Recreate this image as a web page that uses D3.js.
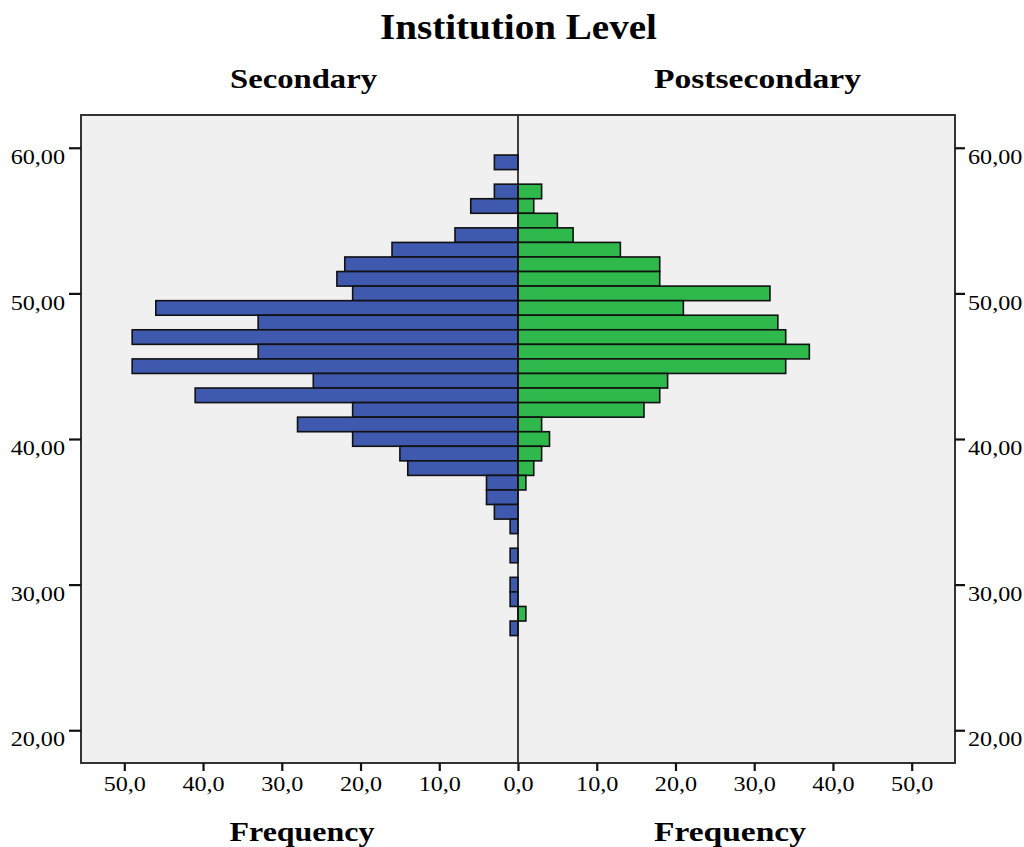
<!DOCTYPE html>
<html>
<head>
<meta charset="utf-8">
<script src="https://cdn.jsdelivr.net/npm/d3@7"></script>
<style>
  html, body { margin: 0; padding: 0; background: #fff; }
  svg text { font-family: "Liberation Serif", "DejaVu Serif", serif; fill: #000; }
</style>
</head>
<body>
<svg id="chart" width="1024" height="847"></svg>
<script>
// bin centres (value on the vertical axis), top to bottom
const bins = [59, 58, 57, 56, 55, 54, 53, 52, 51, 50, 49, 48, 47, 46, 45, 44, 43,
  42, 41, 40, 39, 38, 37, 36, 35, 34, 33, 32, 31, 30, 29, 28, 27];
const secondary = [3, 0, 3, 6, 0, 8, 16, 22, 23, 21, 46, 33, 49, 33, 49, 26, 41,
  21, 28, 21, 15, 14, 4, 4, 3, 1, 0, 1, 0, 1, 1, 0, 1];
const postsecondary = [0, 0, 3, 2, 5, 7, 13, 18, 18, 32, 21, 33, 34, 37, 34, 19, 18,
  16, 3, 4, 3, 2, 1, 0, 0, 0, 0, 0, 0, 0, 0, 1, 0];
const yTicks = [20, 30, 40, 50, 60];
const xTicks = [0, 10, 20, 30, 40, 50];
const groups = ['Secondary', 'Postsecondary'];

const svg = d3.select('#chart');
const box = { left: 81, right: 955, top: 115, bottom: 763 };
const mid = 518;
const stretchK = 1.15;

const y = d3.scaleLinear().domain([17.75, 62.25]).range([box.bottom, box.top]);
const xl = d3.scaleLinear().domain([0, 55.5]).range([mid, box.left]);
const xr = d3.scaleLinear().domain([0, 55.5]).range([mid, box.right]);

function stretch(sel, k) {
  sel.each(function () {
    const w = this.getComputedTextLength();
    d3.select(this).attr('textLength', w * k).attr('lengthAdjust', 'spacingAndGlyphs');
  });
}

// plot background
svg.append('rect')
  .attr('x', box.left).attr('y', box.top)
  .attr('width', box.right - box.left).attr('height', box.bottom - box.top)
  .attr('fill', '#f0f0f0');

const rowData = bins.map((b, i) => ({ bin: b, left: secondary[i], right: postsecondary[i] }));

svg.append('g').selectAll('rect')
  .data(rowData.filter(d => d.left > 0))
  .enter().append('rect')
  .attr('x', d => xl(d.left))
  .attr('y', d => y(d.bin + 0.5))
  .attr('width', d => xl(0) - xl(d.left))
  .attr('height', d => y(d.bin - 0.5) - y(d.bin + 0.5))
  .attr('fill', '#3e59ad')
  .attr('stroke', '#111')
  .attr('stroke-width', 1.6);

svg.append('g').selectAll('rect')
  .data(rowData.filter(d => d.right > 0))
  .enter().append('rect')
  .attr('x', xr(0))
  .attr('y', d => y(d.bin + 0.5))
  .attr('width', d => xr(d.right) - xr(0))
  .attr('height', d => y(d.bin - 0.5) - y(d.bin + 0.5))
  .attr('fill', '#2fb84b')
  .attr('stroke', '#111')
  .attr('stroke-width', 1.6);

// centre line
svg.append('line')
  .attr('x1', mid).attr('x2', mid)
  .attr('y1', box.top).attr('y2', box.bottom)
  .attr('stroke', '#111').attr('stroke-width', 1.6);

// frame
svg.append('rect')
  .attr('x', box.left).attr('y', box.top)
  .attr('width', box.right - box.left).attr('height', box.bottom - box.top)
  .attr('fill', 'none')
  .attr('stroke', '#333').attr('stroke-width', 2);

const fmtY = v => d3.format('.2f')(v).replace('.', ',');
const fmtX = v => d3.format('.1f')(v).replace('.', ',');

function styleAxis(g) {
  g.select('.domain').remove();
  g.selectAll('.tick line').attr('stroke', '#111').attr('stroke-width', 2.2);
  g.selectAll('.tick text').style('font-size', '20px').style('font-family', '"Liberation Serif", serif');
}

const gyl = svg.append('g').attr('transform', `translate(${box.left},0)`)
  .call(d3.axisLeft(y).tickValues(yTicks).tickFormat(fmtY).tickSize(12).tickPadding(4));
styleAxis(gyl);
gyl.selectAll('.tick text').attr('dy', '0.75em');

const gyr = svg.append('g').attr('transform', `translate(${box.right},0)`)
  .call(d3.axisRight(y).tickValues(yTicks).tickFormat(fmtY).tickSize(10).tickPadding(3));
styleAxis(gyr);
gyr.selectAll('.tick text').attr('dy', '0.75em');

const gxl = svg.append('g').attr('transform', `translate(0,${box.bottom})`)
  .call(d3.axisBottom(xl).tickValues(xTicks).tickFormat(fmtX).tickSize(8).tickPadding(5));
styleAxis(gxl);

const gxr = svg.append('g').attr('transform', `translate(0,${box.bottom})`)
  .call(d3.axisBottom(xr).tickValues(xTicks.slice(1)).tickFormat(fmtX).tickSize(8).tickPadding(5));
styleAxis(gxr);

[gyl, gyr, gxl, gxr].forEach(g => {
  g.selectAll('.tick text').style('font-size', '21px');
  stretch(g.selectAll('.tick text'), stretchK);
});

// titles
function label(text, x, yy, size, width) {
  svg.append('text')
    .attr('x', x).attr('y', yy)
    .attr('text-anchor', 'middle')
    .style('font-size', size + 'px')
    .style('font-weight', 'bold')
    .attr('textLength', width)
    .attr('lengthAdjust', 'spacingAndGlyphs')
    .text(text);
}

label('Institution Level', 518.5, 39, 35, 277);
label(groups[0], 303.5, 88, 27, 147);
label(groups[1], 757.5, 88, 27, 207);
label('Frequency', 302, 841, 28, 145);
label('Frequency', 730, 841, 28, 152);
</script>
</body>
</html>
